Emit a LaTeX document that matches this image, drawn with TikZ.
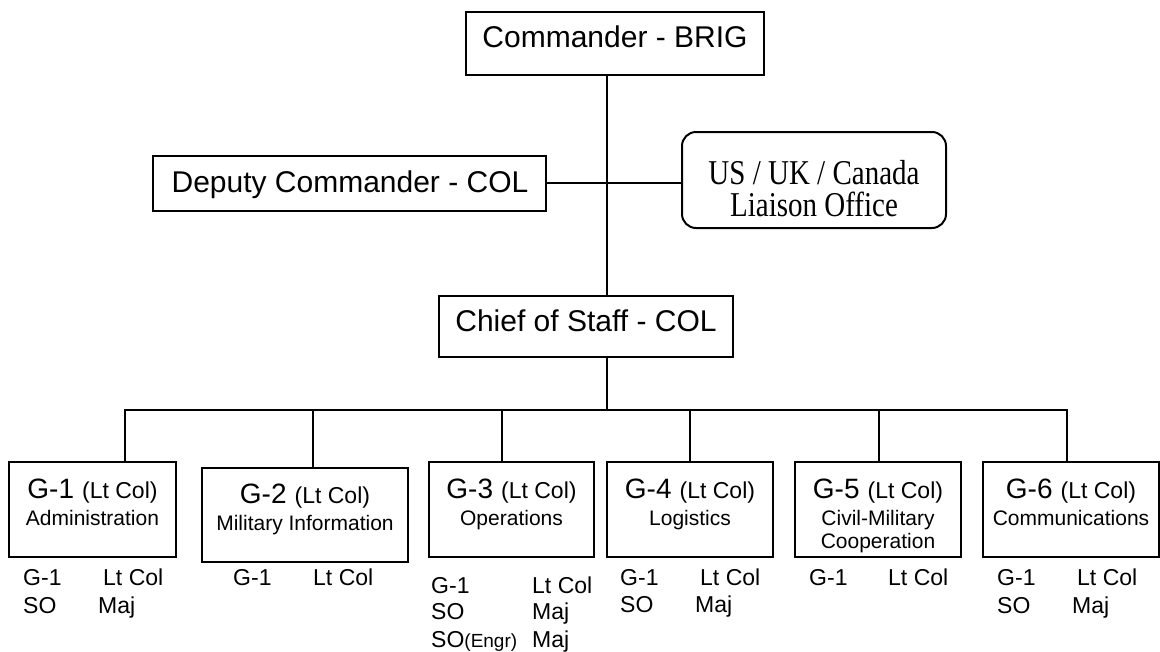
\documentclass[tikz,border=0pt]{standalone}
\usepackage{fontspec}
\setmainfont{Liberation Sans}
\newfontfamily\serifface{Liberation Serif}
\newcommand{\fs}[1]{\fontsize{#1}{#1}\selectfont}
\newcommand{\tallser}[1]{\scalebox{1}[1.2]{#1}}
\begin{document}
\begin{tikzpicture}[x=1pt,y=-1pt,
  box/.style={draw, line width=2pt, inner sep=0pt},
  rbox/.style={box, rounded corners=14pt},
  txt/.style={anchor=base, inner sep=0pt},
  lbl/.style={anchor=base west, inner sep=0pt, font=\fs{23}},
  conn/.style={line width=2pt}]
\useasboundingbox (0,0) rectangle (1160,651);

% top boxes
\node[box, minimum width=298pt, minimum height=63pt] (cmd) at (615,43.5) {};
\node[txt, font=\fs{30}] (cmdt) at (615,47) {Commander - BRIG};

\node[box, minimum width=393pt, minimum height=55pt] (dep) at (349.5,183) {};
\node[txt, font=\fs{30}] (dept) at (350,192) {Deputy Commander - COL};

\node[rbox, minimum width=264pt, minimum height=96pt] (liai) at (814,180) {};
\node[txt, font=\serifface\fs{29}] (liait1) at (814,184) {\tallser{US / UK / Canada}};
\node[txt, font=\serifface\fs{29}] (liait2) at (814,216) {\tallser{Liaison Office}};

\node[box, minimum width=294pt, minimum height=61pt] (chief) at (586,326.5) {};
\node[txt, font=\fs{30}] (chieft) at (586,331) {Chief of Staff - COL};

\coordinate (spine) at (607,0);
\coordinate (barL) at (125,410);
\coordinate (barR) at (1067,410);

% G boxes
\node[box, minimum width=167pt, minimum height=95pt] (g1) at (92.5,509.5) {};
\node[box, minimum width=206pt, minimum height=94pt] (g2) at (305,515) {};
\node[box, minimum width=165pt, minimum height=95pt] (g3) at (511.5,509.5) {};
\node[box, minimum width=166pt, minimum height=95pt] (g4) at (690,509.5) {};
\node[box, minimum width=166pt, minimum height=95pt] (g5) at (878,509.5) {};
\node[box, minimum width=176pt, minimum height=95pt] (g6) at (1071,509.5) {};

\newcommand{\gt}[1]{{\fs{28}G-#1}\,{\fs{23} (Lt Col)}}
\node[txt] (g1t) at (92.5,498) {\gt{1}};
\node[txt, font=\fs{21}] (g1s) at (92.5,525) {Administration};
\node[txt] (g2t) at (305,503) {\gt{2}};
\node[txt, font=\fs{21}] (g2s) at (305,530) {Military Information};
\node[txt] (g3t) at (511.5,498) {\gt{3}};
\node[txt, font=\fs{21}] (g3s) at (511.5,525) {Operations};
\node[txt] (g4t) at (690,498) {\gt{4}};
\node[txt, font=\fs{21}] (g4s) at (690,525) {Logistics};
\node[txt] (g5t) at (878,498) {\gt{5}};
\node[txt, font=\fs{21}] (g5s) at (878,525) {Civil-Military};
\node[txt, font=\fs{21}] (g5s2) at (878,548) {Cooperation};
\node[txt] (g6t) at (1071,498) {\gt{6}};
\node[txt, font=\fs{21}] (g6s) at (1071,525) {Communications};

% labels under boxes
\node[lbl] (l1a) at (23,585) {G-1};
\node[lbl] (l1b) at (103,585) {Lt Col};
\node[lbl] (l1c) at (23,613) {SO};
\node[lbl] (l1d) at (98,613) {Maj};

\node[lbl] (l2a) at (233,585) {G-1};
\node[lbl] (l2b) at (313,585) {Lt Col};

\node[lbl] (l3a) at (431,593) {G-1};
\node[lbl] (l3b) at (532,593) {Lt Col};
\node[lbl] (l3c) at (431,619) {SO};
\node[lbl] (l3d) at (532,619) {Maj};
\node[lbl] (l3e) at (431,647) {SO{\fs{19}(Engr)}};
\node[lbl] (l3f) at (532,647) {Maj};

\node[lbl] (l4a) at (620,585) {G-1};
\node[lbl] (l4b) at (700,585) {Lt Col};
\node[lbl] (l4c) at (620,612) {SO};
\node[lbl] (l4d) at (695,612) {Maj};

\node[lbl] (l5a) at (809,585) {G-1};
\node[lbl] (l5b) at (888,585) {Lt Col};

\node[lbl] (l6a) at (997,585) {G-1};
\node[lbl] (l6b) at (1077,585) {Lt Col};
\node[lbl] (l6c) at (997,613) {SO};
\node[lbl] (l6d) at (1072,613) {Maj};

% connectors
\draw[conn] (cmd.south -| spine) -- (chief.north -| spine);
\draw[conn] (dep.east) -- (dep.east -| liai.west);
\draw[conn] (chief.south -| spine) -- (barL -| spine);
\draw[conn, line cap=rect] (barL) -- (barR);
\draw[conn] (barL) -- (barL |- g1.north);
\draw[conn] (313,410) -- (313,410 |- g2.north);
\draw[conn] (502,410) -- (502,410 |- g3.north);
\draw[conn] (690,410) -- (690,410 |- g4.north);
\draw[conn] (879,410) -- (879,410 |- g5.north);
\draw[conn] (barR) -- (barR |- g6.north);
\end{tikzpicture}
\end{document}
